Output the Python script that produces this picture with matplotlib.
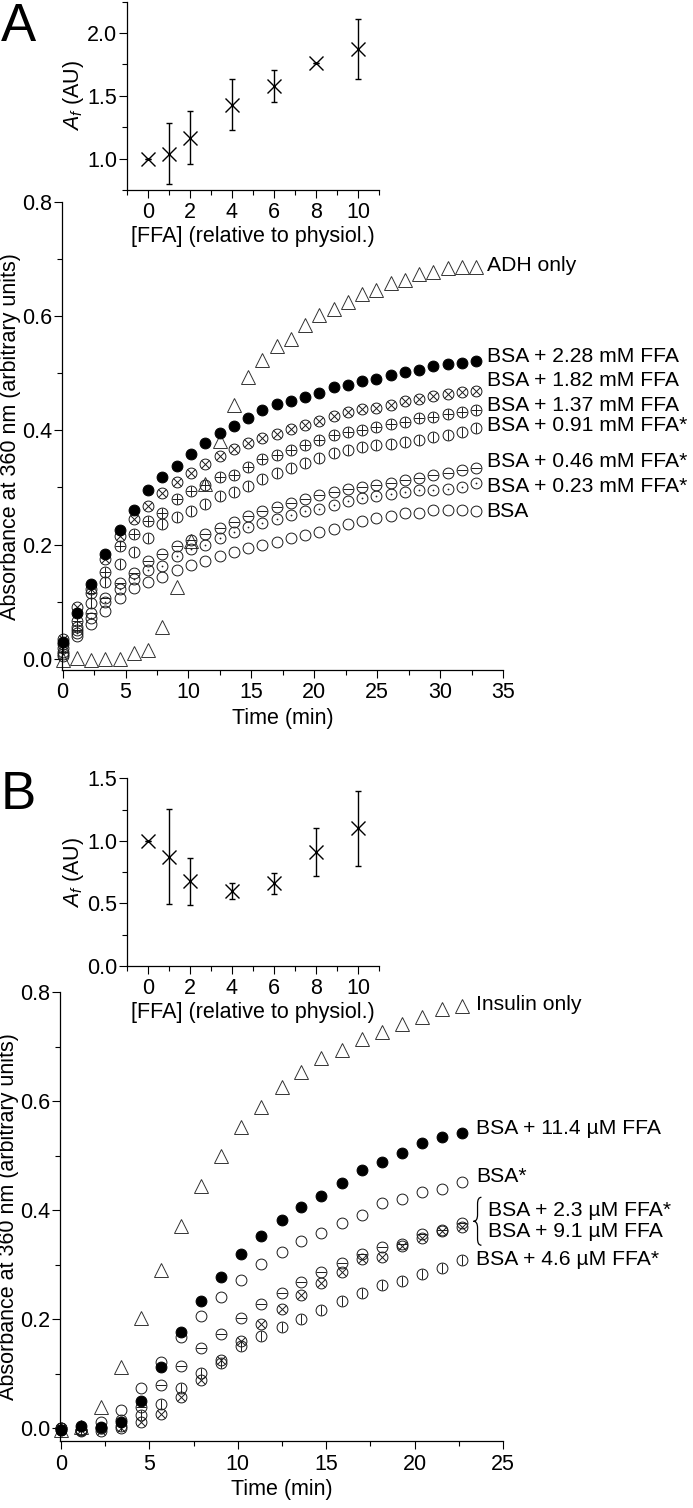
import numpy as np
import matplotlib
matplotlib.use('Agg')
import matplotlib.pyplot as plt
from matplotlib.path import Path
from matplotlib.patches import PathPatch
from matplotlib.ticker import MultipleLocator

plt.rcParams['font.family'] = ['Liberation Sans', 'DejaVu Sans']
plt.rcParams['mathtext.fontset'] = 'custom'
plt.rcParams['mathtext.rm'] = 'Liberation Sans'
plt.rcParams['mathtext.it'] = 'Liberation Sans:italic'
plt.rcParams['font.size'] = 15.5

FS = 15.5
FS_LAB = 15.2

# ---- panel A : ADH aggregation (reads every ~68 s) ----
time_a = [0.00, 1.13, 2.27, 3.40, 4.53, 5.67, 6.80, 7.93, 9.07, 10.20,
          11.33, 12.47, 13.60, 14.73, 15.87, 17.00, 18.13, 19.27, 20.40, 21.53,
          22.67, 23.80, 24.93, 26.07, 27.20, 28.33, 29.47, 30.60, 31.73, 32.87]
adh_only = [-0.002, 0.001, -0.002, 0.0, 0.0, 0.009, 0.015, 0.055, 0.126, 0.206,
            0.306, 0.382, 0.445, 0.494, 0.523, 0.548, 0.561, 0.585, 0.602, 0.613,
            0.626, 0.640, 0.646, 0.658, 0.664, 0.674, 0.677, 0.684, 0.686, 0.686]
a_ffa_228 = [0.029, 0.080, 0.130, 0.184, 0.226, 0.260, 0.295, 0.319, 0.337, 0.358,
             0.378, 0.395, 0.408, 0.421, 0.435, 0.446, 0.452, 0.458, 0.466, 0.476,
             0.480, 0.487, 0.491, 0.497, 0.503, 0.506, 0.513, 0.517, 0.519, 0.522]
a_ffa_182 = [0.035, 0.090, 0.122, 0.175, 0.215, 0.244, 0.267, 0.291, 0.309, 0.326,
             0.342, 0.355, 0.367, 0.378, 0.386, 0.393, 0.402, 0.410, 0.416, 0.425,
             0.432, 0.437, 0.439, 0.444, 0.452, 0.456, 0.460, 0.464, 0.467, 0.470]
a_ffa_137 = [0.025, 0.066, 0.115, 0.152, 0.198, 0.219, 0.242, 0.256, 0.279, 0.294,
             0.304, 0.318, 0.322, 0.336, 0.350, 0.357, 0.366, 0.375, 0.383, 0.392,
             0.398, 0.400, 0.406, 0.411, 0.414, 0.421, 0.424, 0.428, 0.433, 0.436]
a_ffa_091 = [0.018, 0.055, 0.098, 0.135, 0.165, 0.187, 0.212, 0.236, 0.248, 0.259,
             0.271, 0.285, 0.292, 0.303, 0.314, 0.325, 0.334, 0.343, 0.352, 0.361,
             0.365, 0.371, 0.374, 0.377, 0.379, 0.383, 0.389, 0.392, 0.398, 0.404]
a_ffa_046 = [0.012, 0.050, 0.080, 0.106, 0.133, 0.150, 0.171, 0.183, 0.197, 0.208,
             0.219, 0.229, 0.240, 0.250, 0.258, 0.265, 0.273, 0.280, 0.286, 0.292,
             0.298, 0.301, 0.305, 0.308, 0.313, 0.317, 0.322, 0.326, 0.330, 0.335]
a_ffa_023 = [0.008, 0.045, 0.072, 0.100, 0.122, 0.140, 0.155, 0.163, 0.180, 0.192,
             0.200, 0.212, 0.222, 0.230, 0.238, 0.245, 0.252, 0.258, 0.263, 0.269,
             0.277, 0.281, 0.285, 0.288, 0.292, 0.295, 0.296, 0.298, 0.301, 0.307]
a_bsa = [0.005, 0.040, 0.060, 0.083, 0.107, 0.123, 0.134, 0.143, 0.155, 0.164,
         0.171, 0.180, 0.187, 0.194, 0.200, 0.205, 0.211, 0.217, 0.222, 0.228,
         0.236, 0.242, 0.246, 0.250, 0.255, 0.256, 0.260, 0.260, 0.261, 0.259]

a_labels = ['ADH only', 'BSA + 2.28 mM FFA', 'BSA + 1.82 mM FFA', 'BSA + 1.37 mM FFA',
            'BSA + 0.91 mM FFA*', 'BSA + 0.46 mM FFA*', 'BSA + 0.23 mM FFA*', 'BSA']
a_label_y = [0.690, 0.530, 0.487, 0.444, 0.408, 0.345, 0.301, 0.258]

# inset A
inset_x = [0, 1, 2, 4, 6, 8, 10]
inset_a_y = [1.0, 1.04, 1.166, 1.43, 1.58, 1.76, 1.87]
inset_a_err = [0.0, 0.24, 0.21, 0.206, 0.127, 0.0, 0.24]

# ---- panel B : insulin aggregation ----
time_b = time_a[:21]
insulin_only = [-0.003, 0.002, 0.040, 0.113, 0.203, 0.290, 0.371, 0.444, 0.500, 0.553,
                0.590, 0.627, 0.654, 0.679, 0.695, 0.714, 0.728, 0.741, 0.755, 0.769, 0.774]
b_ffa_114 = [-0.003, 0.004, 0.002, 0.012, 0.051, 0.113, 0.177, 0.234, 0.278, 0.320,
             0.353, 0.382, 0.407, 0.427, 0.451, 0.474, 0.488, 0.505, 0.523, 0.535, 0.542]
b_bsa = [-0.003, -0.005, 0.012, 0.034, 0.075, 0.122, 0.167, 0.206, 0.242, 0.272,
         0.301, 0.323, 0.343, 0.358, 0.376, 0.392, 0.413, 0.420, 0.434, 0.440, 0.452]
b_ffa_23 = [0.0, -0.003, 0.0, 0.015, 0.040, 0.080, 0.114, 0.147, 0.174, 0.202,
            0.228, 0.248, 0.269, 0.287, 0.303, 0.320, 0.333, 0.339, 0.356, 0.364, 0.377]
b_ffa_91 = [0.0, -0.003, -0.004, 0.0, 0.012, 0.027, 0.057, 0.089, 0.125, 0.160,
            0.191, 0.220, 0.245, 0.267, 0.287, 0.310, 0.314, 0.335, 0.349, 0.362, 0.370]
b_ffa_46 = [0.0, -0.002, 0.0, 0.005, 0.024, 0.045, 0.075, 0.102, 0.120, 0.151,
            0.169, 0.187, 0.201, 0.218, 0.234, 0.249, 0.263, 0.270, 0.284, 0.295, 0.309]

b_labels = ['Insulin only', 'BSA + 11.4 \u00b5M FFA', 'BSA*', 'BSA + 2.3 \u00b5M FFA*',
            'BSA + 9.1 \u00b5M FFA', 'BSA + 4.6 \u00b5M FFA*']
b_label_y = [0.777, 0.550, 0.462, 0.400, 0.361, 0.309]

inset_b_y = [1.0, 0.874, 0.676, 0.60, 0.66, 0.91, 1.10]
inset_b_err = [0.0, 0.38, 0.19, 0.066, 0.084, 0.19, 0.30]

# ---- drawing ----
W, H = 693, 1508
fig = plt.figure(figsize=(W / 100, H / 100), dpi=100)

def px_axes(x0, x1, ytop, ybot):
    return fig.add_axes([x0 / W, 1 - ybot / H, (x1 - x0) / W, (ybot - ytop) / H])

def style(ax, xmaj, xmin, ymaj, ymin):
    for s in ['top', 'right']:
        ax.spines[s].set_visible(False)
    for s in ['left', 'bottom']:
        ax.spines[s].set_linewidth(0.9)
    ax.xaxis.set_major_locator(MultipleLocator(xmaj))
    ax.xaxis.set_minor_locator(MultipleLocator(xmin))
    ax.yaxis.set_major_locator(MultipleLocator(ymaj))
    ax.yaxis.set_minor_locator(MultipleLocator(ymin))
    ax.tick_params(which='major', direction='out', length=6, width=0.8, labelsize=FS)
    ax.tick_params(which='minor', direction='out', length=3.5, width=0.8)
    ax.tick_params(axis='x', which='major', pad=3)
    ax.tick_params(axis='y', which='major', pad=1)

MS = 7.8
EC = '#1a1a1a'
MEW = 0.7

def circles(ax, t, v, inner=None):
    if inner == 'filled':
        ax.plot(t, v, ls='none', marker='o', ms=MS, mfc='black', mec='black', mew=MEW, clip_on=False)
        return
    ax.plot(t, v, ls='none', marker='o', ms=MS, mfc='none', mec=EC, mew=MEW, clip_on=False)
    if inner == 'x':
        ax.plot(t, v, ls='none', marker='x', ms=MS * 0.7, mec=EC, mew=MEW, clip_on=False)
    elif inner == '+':
        ax.plot(t, v, ls='none', marker='+', ms=MS, mec=EC, mew=MEW, clip_on=False)
    elif inner == '|':
        ax.plot(t, v, ls='none', marker='|', ms=MS, mec=EC, mew=MEW, clip_on=False)
    elif inner == '_':
        ax.plot(t, v, ls='none', marker='_', ms=MS, mec=EC, mew=MEW, clip_on=False)
    elif inner == '.':
        ax.plot(t, v, ls='none', marker='o', ms=1.3, mfc=EC, mew=0, clip_on=False)

def triangles(ax, t, v):
    ax.plot(t, v, ls='none', marker='^', ms=9.5, mfc='none', mec='#333333', mew=MEW, clip_on=False)

# main A
axA = px_axes(62, 503, 202.3, 670)
triangles(axA, time_a, adh_only)
circles(axA, time_a, a_bsa)
circles(axA, time_a, a_ffa_023, '.')
circles(axA, time_a, a_ffa_046, '_')
circles(axA, time_a, a_ffa_091, '|')
circles(axA, time_a, a_ffa_137, '+')
circles(axA, time_a, a_ffa_182, 'x')
circles(axA, time_a, a_ffa_228, 'filled')
axA.set_xlim(-0.05, 35)
axA.set_ylim(-0.02, 0.8)
style(axA, 5, 2.5, 0.2, 0.1)
axA.set_xlabel('Time (min)', labelpad=3)
axA.set_ylabel('Absorbance at 360 nm (arbitrary units)', labelpad=1)
for lab, y in zip(a_labels, a_label_y):
    axA.text(33.7, y, lab, ha='left', va='center', fontsize=FS_LAB)

# inset A
insA = px_axes(127, 379, 1.6, 190)
insA.set_facecolor('none')
insA.errorbar(inset_x, inset_a_y, yerr=inset_a_err, fmt='x', ms=9.5, mew=1.0,
              color='black', ecolor='black', elinewidth=1.0, capsize=2.5, capthick=1.0)
insA.set_xlim(-1, 11)
insA.set_ylim(0.75, 2.25)
style(insA, 2, 1, 0.5, 0.25)
insA.set_xlabel('[FFA] (relative to physiol.)', labelpad=2)
insA.set_ylabel(r'$A_f$ (AU)', labelpad=1)

# main B
axB = px_axes(60, 503, 992.3, 1441)
triangles(axB, time_b, insulin_only)
circles(axB, time_b, b_ffa_46, '|')
circles(axB, time_b, b_ffa_91, 'x')
circles(axB, time_b, b_ffa_23, '_')
circles(axB, time_b, b_bsa)
circles(axB, time_b, b_ffa_114, 'filled')
axB.set_xlim(-0.06, 25)
axB.set_ylim(-0.023, 0.8)
style(axB, 5, 2.5, 0.2, 0.1)
axB.set_xlabel('Time (min)', labelpad=3)
axB.set_ylabel('Absorbance at 360 nm (arbitrary units)', labelpad=1)
for i, (lab, y) in enumerate(zip(b_labels, b_label_y)):
    x = 24.15 if i in (3, 4) else 23.47
    axB.text(x, y, lab, ha='left', va='center', fontsize=FS_LAB)

# curly bracket joining the two overlapping series
xa, xm, xt = 23.78, 23.56, 23.33
ytop, ymid, ybot, d = 0.424, 0.380, 0.336, 0.012
verts = [(xa, ytop), (xm, ytop), (xm, ytop - d), (xm, ymid + d), (xm, ymid), (xt, ymid),
         (xm, ymid), (xm, ymid - d), (xm, ybot + d), (xm, ybot), (xa, ybot)]
codes = [Path.MOVETO, Path.CURVE3, Path.CURVE3, Path.LINETO, Path.CURVE3, Path.CURVE3,
         Path.CURVE3, Path.CURVE3, Path.LINETO, Path.CURVE3, Path.CURVE3]
axB.add_patch(PathPatch(Path(verts, codes), fc='none', ec='black', lw=0.9, clip_on=False))

# inset B
insB = px_axes(127, 379, 778.3, 966)
insB.set_facecolor('none')
insB.errorbar(inset_x, inset_b_y, yerr=inset_b_err, fmt='x', ms=9.5, mew=1.0,
              color='black', ecolor='black', elinewidth=1.0, capsize=2.5, capthick=1.0)
insB.set_xlim(-1, 11)
insB.set_ylim(0, 1.5)
style(insB, 2, 1, 0.5, 0.25)
insB.set_xlabel('[FFA] (relative to physiol.)', labelpad=2)
insB.set_ylabel(r'$A_f$ (AU)', labelpad=1)

# panel letters
fig.text(1 / W, 1 - 2 / H, 'A', fontsize=38, ha='left', va='top')
fig.text(1 / W, 1 - 770 / H, 'B', fontsize=38, ha='left', va='top')

fig.savefig('out.png', dpi=100)
